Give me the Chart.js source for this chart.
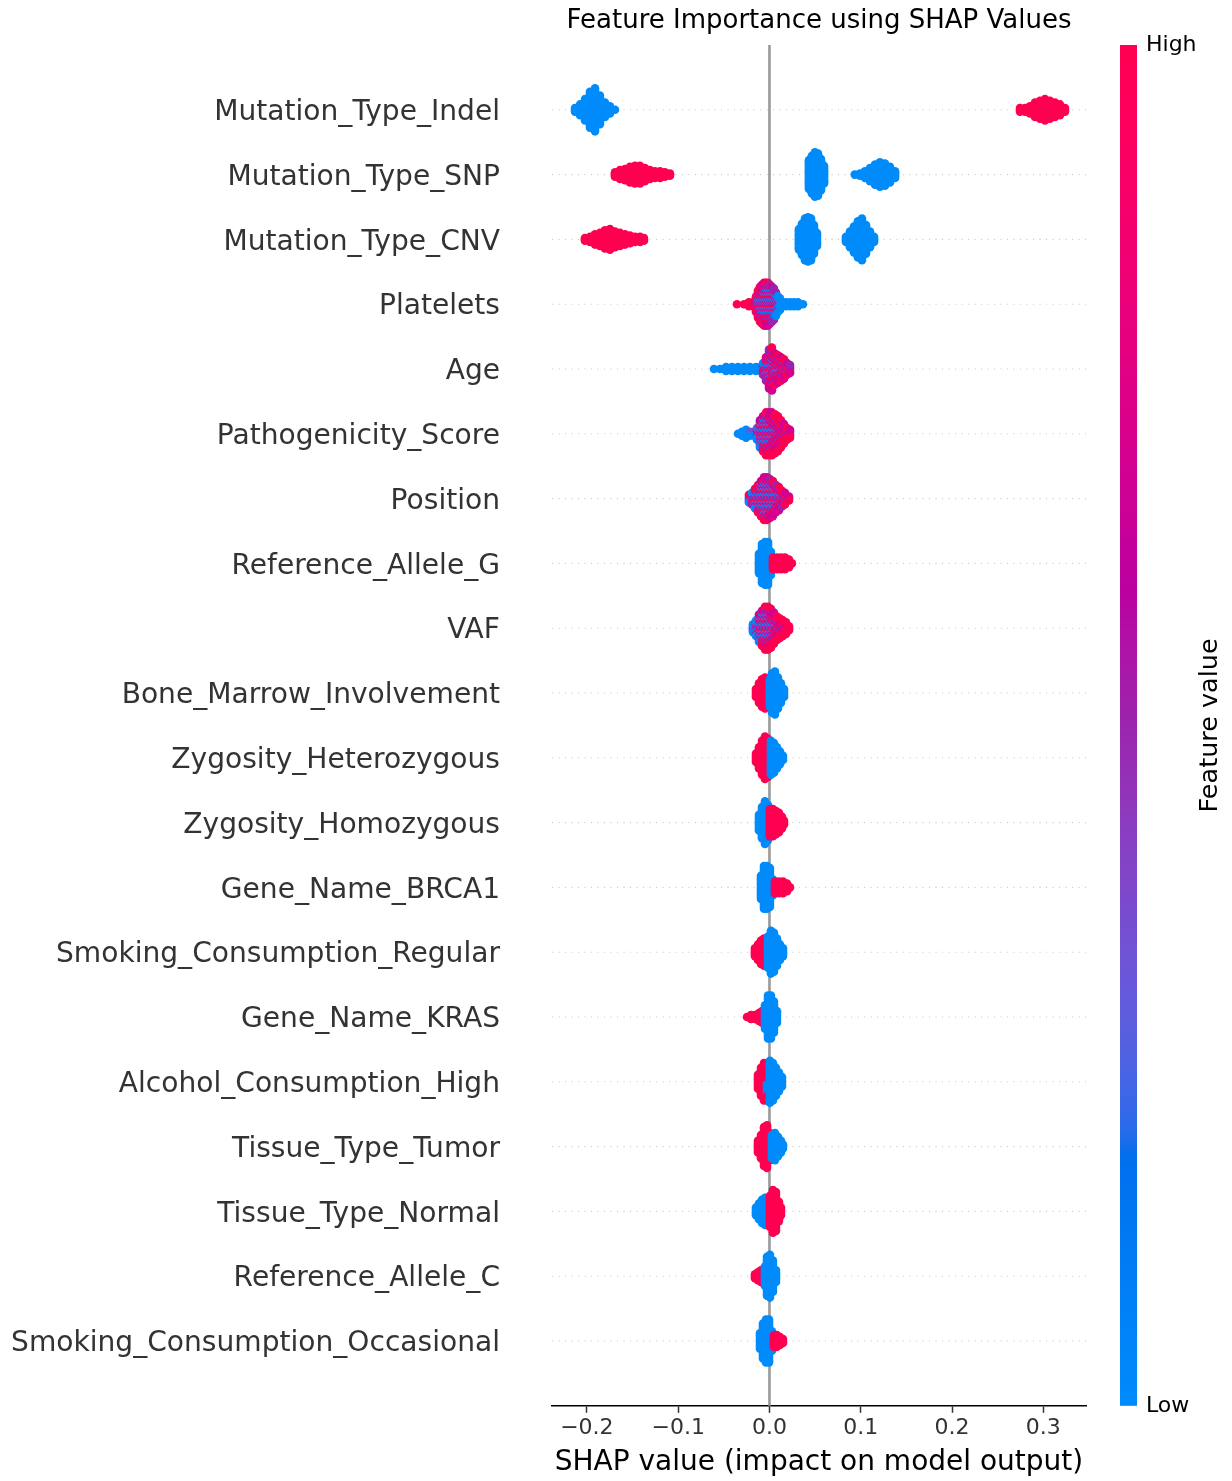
<!DOCTYPE html>
<html>
<head>
<meta charset="utf-8">
<script src="https://cdn.jsdelivr.net/npm/chart.js@4.4.1/dist/chart.umd.min.js"></script>
<style>
  html, body { margin: 0; padding: 0; background: #ffffff; }
  #wrap { width: 1232px; height: 1481px; }
</style>
</head>
<body>
<div id="wrap"><canvas id="shap" width="1232" height="1481"></canvas></div>
<script>
// Features, top row first.
const FEATURE_NAMES = [
  'Mutation_Type_Indel', 'Mutation_Type_SNP', 'Mutation_Type_CNV', 'Platelets', 'Age',
  'Pathogenicity_Score', 'Position', 'Reference_Allele_G', 'VAF', 'Bone_Marrow_Involvement',
  'Zygosity_Heterozygous', 'Zygosity_Homozygous', 'Gene_Name_BRCA1', 'Smoking_Consumption_Regular',
  'Gene_Name_KRAS', 'Alcohol_Consumption_High', 'Tissue_Type_Tumor', 'Tissue_Type_Normal',
  'Reference_Allele_C', 'Smoking_Consumption_Occasional'
];

// Feature value levels (0 = low, 1 = high) used by the count columns below.
const FEATURE_LEVELS = [0, 0.3, 0.5, 0.7, 1];

// SHAP axis ticks
const X_TICKS = [-0.2, -0.1, 0.0, 0.1, 0.2, 0.3];

// Each row: [shap value, points at level 0, 0.3, 0.5, 0.7, 1]
const mutationTypeIndel = [
  [-0.2130, 3,0,0,0,0], [-0.2075, 7,0,0,0,0], [-0.2020, 13,0,0,0,0], [-0.1966, 21,0,0,0,0],
  [-0.1911, 25,0,0,0,0], [-0.1857, 17,0,0,0,0], [-0.1802, 9,0,0,0,0], [-0.1747, 5,0,0,0,0],
  [-0.1692, 1,0,0,0,0],
  [0.2744, 0,0,0,0,3], [0.2799, 0,0,0,0,3], [0.2853, 0,0,0,0,5], [0.2908, 0,0,0,0,9],
  [0.2963, 0,0,0,0,11], [0.3018, 0,0,0,0,13], [0.3072, 0,0,0,0,11], [0.3127, 0,0,0,0,9],
  [0.3182, 0,0,0,0,7], [0.3237, 0,0,0,0,3]
];
const mutationTypeSNP = [
  [-0.1692, 0,0,0,0,5], [-0.1637, 0,0,0,0,9], [-0.1583, 0,0,0,0,11], [-0.1528, 0,0,0,0,15],
  [-0.1473, 0,0,0,0,17], [-0.1418, 0,0,0,0,17], [-0.1364, 0,0,0,0,13], [-0.1309, 0,0,0,0,9],
  [-0.1254, 0,0,0,0,7], [-0.1199, 0,0,0,0,7], [-0.1145, 0,0,0,0,5], [-0.1090, 0,0,0,0,3],
  [0.0433, 27,0,0,0,0], [0.0465, 35,0,0,0,0], [0.0498, 41,0,0,0,0], [0.0531, 39,0,0,0,0],
  [0.0564, 29,0,0,0,0], [0.0597, 17,0,0,0,0],
  [0.0934, 1,0,0,0,0], [0.0991, 3,0,0,0,0], [0.1046, 7,0,0,0,0], [0.1101, 13,0,0,0,0],
  [0.1156, 19,0,0,0,0], [0.1210, 23,0,0,0,0], [0.1265, 21,0,0,0,0], [0.1320, 15,0,0,0,0],
  [0.1375, 7,0,0,0,0]
];
const mutationTypeCNV = [
  [-0.2021, 0,0,0,0,3], [-0.1966, 0,0,0,0,5], [-0.1911, 0,0,0,0,9], [-0.1857, 0,0,0,0,11],
  [-0.1802, 0,0,0,0,15], [-0.1747, 0,0,0,0,17], [-0.1692, 0,0,0,0,13], [-0.1637, 0,0,0,0,11],
  [-0.1583, 0,0,0,0,9], [-0.1528, 0,0,0,0,7], [-0.1473, 0,0,0,0,5], [-0.1418, 0,0,0,0,5],
  [-0.1375, 0,0,0,0,3],
  [0.0323, 17,0,0,0,0], [0.0356, 25,0,0,0,0], [0.0389, 33,0,0,0,0], [0.0422, 35,0,0,0,0],
  [0.0455, 33,0,0,0,0], [0.0487, 23,0,0,0,0], [0.0520, 11,0,0,0,0],
  [0.0838, 5,0,0,0,0], [0.0882, 13,0,0,0,0], [0.0925, 21,0,0,0,0], [0.0969, 29,0,0,0,0],
  [0.1013, 33,0,0,0,0], [0.1057, 23,0,0,0,0], [0.1101, 13,0,0,0,0], [0.1145, 5,0,0,0,0]
];
const platelets = [
  [-0.0356, 0,0,0,0,1], [-0.0279, 0,0,0,0,1], [-0.0225, 0,0,0,1,2], [-0.0181, 0,0,0,1,2],
  [-0.0148, 0,0,2,2,5], [-0.0126, 2,1,3,4,5], [-0.0104, 2,2,4,5,6], [-0.0082, 3,2,4,6,6],
  [-0.0060, 3,3,5,6,6], [-0.0038, 4,3,5,6,5], [-0.0016, 4,3,5,6,5], [0.0005, 4,3,5,5,4],
  [0.0027, 4,3,5,4,3], [0.0049, 4,3,5,3,2], [0.0071, 4,3,3,2,1], [0.0093, 4,2,2,1,0],
  [0.0115, 5,2,0,0,0],
  [0.0137, 3,0,0,0,0], [0.0181, 3,0,0,0,0], [0.0225, 3,0,0,0,0], [0.0268, 3,0,0,0,0],
  [0.0312, 3,0,0,0,0], [0.0367, 1,0,0,0,0]
];
const age = [
  [-0.0608, 1,0,0,0,0], [-0.0542, 1,0,0,0,0], [-0.0476, 3,0,0,0,0], [-0.0411, 3,0,0,0,0],
  [-0.0345, 3,0,0,0,0], [-0.0279, 3,0,0,0,0], [-0.0214, 3,0,0,0,0], [-0.0148, 3,0,0,0,0],
  [-0.0093, 3,0,0,0,0],
  [-0.0071, 2,1,2,1,1], [-0.0038, 2,2,4,3,2], [-0.0005, 2,3,6,6,4], [0.0027, 1,3,6,7,6],
  [0.0060, 0,2,5,5,5], [0.0093, 0,2,4,5,4], [0.0126, 0,1,4,4,4], [0.0159, 0,1,3,4,3],
  [0.0192, 0,1,2,2,2], [0.0225, 0,0,2,2,1]
];
const pathogenicityScore = [
  [-0.0345, 1,0,0,0,0], [-0.0301, 3,0,0,0,0], [-0.0257, 5,0,0,0,0], [-0.0214, 2,1,0,0,0],
  [-0.0170, 2,1,0,0,0],
  [-0.0137, 3,2,1,1,0], [-0.0104, 4,3,3,3,2], [-0.0071, 4,3,4,4,4], [-0.0038, 4,3,5,5,6],
  [-0.0005, 3,3,5,6,6], [0.0027, 2,2,5,7,7], [0.0060, 1,2,5,6,7], [0.0093, 1,1,4,6,7],
  [0.0126, 0,1,3,5,6], [0.0159, 0,1,2,4,4], [0.0192, 0,0,2,2,3], [0.0225, 0,0,1,2,2]
];
const position = [
  [-0.0225, 2,1,1,0,1], [-0.0192, 2,1,2,1,1], [-0.0159, 3,2,2,2,2], [-0.0126, 3,2,3,3,4],
  [-0.0093, 4,3,4,4,4], [-0.0060, 4,4,5,5,5], [-0.0027, 4,4,5,5,5], [0.0005, 3,4,5,5,4],
  [0.0038, 3,3,4,5,4], [0.0071, 2,2,4,4,3], [0.0104, 1,2,3,4,3], [0.0137, 1,1,3,2,2],
  [0.0170, 0,1,2,2,2], [0.0214, 0,0,1,1,1]
];
const referenceAlleleG = [
  [-0.0115, 11,0,0,0,0], [-0.0082, 21,0,0,0,0], [-0.0049, 23,0,0,0,0], [-0.0016, 23,0,0,0,0],
  [0.0016, 13,0,0,0,0],
  [0.0038, 0,0,0,0,7], [0.0082, 0,0,0,0,7], [0.0126, 0,0,0,0,7], [0.0170, 0,0,0,0,7],
  [0.0214, 0,0,0,0,5], [0.0246, 0,0,0,0,1]
];
const vaf = [
  [-0.0181, 3,1,1,0,0], [-0.0148, 4,2,2,1,0], [-0.0115, 4,3,3,3,2], [-0.0082, 4,3,4,4,4],
  [-0.0049, 3,4,5,5,6], [-0.0016, 3,4,5,5,6], [0.0016, 2,3,5,5,6], [0.0049, 1,2,4,5,5],
  [0.0082, 0,1,3,4,5], [0.0115, 0,1,2,3,5], [0.0148, 0,0,2,3,4], [0.0181, 0,0,1,2,4],
  [0.0214, 0,0,0,1,2]
];
const boneMarrowInvolvement = [
  [-0.0148, 0,0,0,0,5], [-0.0115, 0,0,0,0,11], [-0.0082, 0,0,0,0,15], [-0.0049, 0,0,0,0,17],
  [-0.0027, 0,0,0,0,15],
  [0.0005, 15,0,0,0,0], [0.0027, 21,0,0,0,0], [0.0060, 23,0,0,0,0], [0.0093, 17,0,0,0,0],
  [0.0126, 11,0,0,0,0], [0.0159, 5,0,0,0,0]
];
const zygosityHeterozygous = [
  [-0.0148, 0,0,0,0,5], [-0.0115, 0,0,0,0,11], [-0.0082, 0,0,0,0,17], [-0.0049, 0,0,0,0,21],
  [-0.0016, 0,0,0,0,19],
  [0.0016, 17,0,0,0,0], [0.0049, 15,0,0,0,0], [0.0082, 11,0,0,0,0], [0.0115, 7,0,0,0,0],
  [0.0148, 3,0,0,0,0]
];
const zygosityHomozygous = [
  [-0.0115, 9,0,0,0,0], [-0.0082, 17,0,0,0,0], [-0.0049, 23,0,0,0,0], [-0.0016, 19,0,0,0,0],
  [0.0005, 0,0,0,0,15], [0.0038, 0,0,0,0,15], [0.0071, 0,0,0,0,13], [0.0104, 0,0,0,0,11],
  [0.0137, 0,0,0,0,7], [0.0159, 0,0,0,0,3]
];
const geneNameBRCA1 = [
  [-0.0093, 13,0,0,0,0], [-0.0060, 23,0,0,0,0], [-0.0027, 23,0,0,0,0], [0.0005, 21,0,0,0,0],
  [0.0038, 9,0,0,0,0],
  [0.0060, 0,0,0,0,7], [0.0104, 0,0,0,0,7], [0.0148, 0,0,0,0,7], [0.0192, 0,0,0,0,5],
  [0.0225, 0,0,0,0,1]
];
const smokingConsumptionRegular = [
  [-0.0159, 0,0,0,0,5], [-0.0126, 0,0,0,0,9], [-0.0093, 0,0,0,0,13], [-0.0060, 0,0,0,0,15],
  [-0.0038, 0,0,0,0,11],
  [-0.0016, 17,0,0,0,0], [0.0016, 23,0,0,0,0], [0.0049, 21,0,0,0,0], [0.0082, 15,0,0,0,0],
  [0.0115, 9,0,0,0,0], [0.0148, 5,0,0,0,0]
];
const geneNameKRAS = [
  [-0.0246, 0,0,0,0,1], [-0.0203, 0,0,0,0,3], [-0.0159, 0,0,0,0,3], [-0.0115, 0,0,0,0,5],
  [-0.0082, 0,0,0,0,7],
  [-0.0049, 13,0,0,0,0], [-0.0016, 23,0,0,0,0], [0.0016, 23,0,0,0,0], [0.0049, 17,0,0,0,0],
  [0.0082, 7,0,0,0,0]
];
const alcoholConsumptionHigh = [
  [-0.0126, 0,0,0,0,7], [-0.0093, 0,0,0,0,13], [-0.0060, 0,0,0,0,17], [-0.0027, 6,0,0,0,11],
  [0.0005, 19,0,0,0,0], [0.0038, 17,0,0,0,0], [0.0071, 13,0,0,0,0], [0.0104, 9,0,0,0,0],
  [0.0137, 5,0,0,0,0]
];
const tissueTypeTumor = [
  [-0.0126, 0,0,0,0,7], [-0.0093, 0,0,0,0,13], [-0.0060, 0,0,0,0,21], [-0.0027, 0,0,0,0,23],
  [0.0005, 0,0,0,0,15],
  [0.0027, 13,0,0,0,0], [0.0060, 15,0,0,0,0], [0.0093, 11,0,0,0,0], [0.0126, 7,0,0,0,0],
  [0.0148, 3,0,0,0,0]
];
const tissueTypeNormal = [
  [-0.0148, 5,0,0,0,0], [-0.0115, 9,0,0,0,0], [-0.0082, 13,0,0,0,0], [-0.0049, 15,0,0,0,0],
  [-0.0016, 13,0,0,0,0],
  [0.0005, 0,0,0,0,17], [0.0038, 0,0,0,0,23], [0.0071, 0,0,0,0,21], [0.0104, 0,0,0,0,11],
  [0.0126, 0,0,0,0,5]
];
const referenceAlleleC = [
  [-0.0159, 0,0,0,0,3], [-0.0126, 0,0,0,0,5], [-0.0093, 0,0,0,0,7], [-0.0060, 0,0,0,0,9],
  [-0.0049, 11,0,0,0,0], [-0.0027, 21,0,0,0,0], [0.0005, 23,0,0,0,0], [0.0038, 17,0,0,0,0],
  [0.0071, 7,0,0,0,0]
];
const smokingConsumptionOccasional = [
  [-0.0104, 9,0,0,0,0], [-0.0071, 19,0,0,0,0], [-0.0038, 23,0,0,0,0], [-0.0005, 23,0,0,0,0],
  [0.0027, 11,0,0,0,0],
  [0.0049, 0,0,0,0,7], [0.0082, 0,0,0,0,7], [0.0115, 0,0,0,0,5], [0.0148, 0,0,0,0,3]
];

const FEATURE_DATA = [
  mutationTypeIndel, mutationTypeSNP, mutationTypeCNV, platelets, age,
  pathogenicityScore, position, referenceAlleleG, vaf, boneMarrowInvolvement,
  zygosityHeterozygous, zygosityHomozygous, geneNameBRCA1, smokingConsumptionRegular,
  geneNameKRAS, alcoholConsumptionHigh, tissueTypeTumor, tissueTypeNormal,
  referenceAlleleC, smokingConsumptionOccasional
];

// ---- red/blue colour map interpolated in LCH space ----
function labToRgb(L, a, b) {
  const fy = (L + 16) / 116, fx = fy + a / 500, fz = fy - b / 200;
  const inv = t => (t > 6 / 29 ? t * t * t : 3 * (6 / 29) * (6 / 29) * (t - 4 / 29));
  const X = 0.95047 * inv(fx), Y = inv(fy), Z = 1.08883 * inv(fz);
  let r = 3.2406 * X - 1.5372 * Y - 0.4986 * Z;
  let g = -0.9689 * X + 1.8758 * Y + 0.0415 * Z;
  let bl = 0.0557 * X - 0.2040 * Y + 1.0570 * Z;
  const gam = c => {
    c = Math.min(1, Math.max(0, c));
    return c <= 0.0031308 ? 12.92 * c : 1.055 * Math.pow(c, 1 / 2.4) - 0.055;
  };
  return [gam(r), gam(g), gam(bl)].map(c => Math.round(c * 255));
}
function redBlue(t) {
  t = Math.min(1, Math.max(0, t));
  const L = t < 0.5 ? 54 + (40 - 54) * (t / 0.5) : 40 + (54 - 40) * ((t - 0.5) / 0.5);
  const C = 70 + (90 - 70) * t;
  const h = 4.6588 + t * (0.35470565 + 2 * Math.PI - 4.6588);
  const [r, g, b] = labToRgb(L, C * Math.cos(h), C * Math.sin(h));
  return `rgb(${r},${g},${b})`;
}

// ---- beeswarm layout: stack points of the same bin alternately above and below the row ----
function swarm(entries, rowValue) {
  const pts = [];
  entries.forEach(e => {
    const counts = e.slice(1);
    let left = counts.reduce((s, c) => s + c, 0);
    while (left > 0) {
      for (let lv = 0; lv < counts.length; lv++) {
        if (counts[lv] > 0) { pts.push({ x: e[0], v: FEATURE_LEVELS[lv] }); counts[lv]--; left--; }
      }
    }
  });
  const xs = pts.map(p => p.x);
  const mn = Math.min(...xs), mx = Math.max(...xs);
  const nbins = 100;
  pts.forEach(p => { p.q = Math.round(nbins * (p.x - mn) / (mx - mn + 1e-8)); });
  const order = pts.map((p, i) => i).sort((a, b) => (pts[a].q - pts[b].q) || (a - b));
  let layer = 0, last = -1;
  order.forEach(i => {
    if (pts[i].q !== last) layer = 0;
    pts[i].off = Math.ceil(layer / 2) * ((layer % 2) * 2 - 1);
    layer++;
    last = pts[i].q;
  });
  const maxOff = Math.max(...pts.map(p => p.off + 1));
  const rowHeight = 0.4;
  const scale = 0.9 * (rowHeight / maxOff);
  return pts.map(p => ({ x: p.x, y: rowValue + p.off * scale, v: p.v }));
}

const nRows = FEATURE_NAMES.length;
const points = [];
FEATURE_DATA.forEach((entries, k) => { points.push(...swarm(entries, nRows - 1 - k)); });
const pointColors = points.map(p => redBlue(p.v));

const FONT = "'DejaVu Sans', 'Liberation Sans', sans-serif";

const decor = {
  id: 'decor',
  beforeDatasetsDraw(chart) {
    const { ctx, chartArea: a, scales: { x, y } } = chart;
    ctx.save();
    ctx.strokeStyle = '#cccccc';
    ctx.lineWidth = 1.1;
    ctx.setLineDash([1.1, 5.4]);
    for (let i = 0; i < nRows; i++) {
      const py = y.getPixelForValue(i);
      ctx.beginPath(); ctx.moveTo(a.left, py); ctx.lineTo(a.right, py); ctx.stroke();
    }
    ctx.setLineDash([]);
    ctx.strokeStyle = '#999999';
    ctx.lineWidth = 2.6;
    const x0 = x.getPixelForValue(0);
    ctx.beginPath(); ctx.moveTo(x0, a.top); ctx.lineTo(x0, a.bottom); ctx.stroke();
    ctx.restore();
  },
  afterDraw(chart) {
    const { ctx, chartArea: a } = chart;
    ctx.save();
    const cx = (a.left + a.right) / 2;
    // title
    ctx.fillStyle = '#000000';
    ctx.textAlign = 'center';
    ctx.textBaseline = 'middle';
    ctx.font = `26px ${FONT}`;
    ctx.fillText('Feature Importance using SHAP Values', cx, 21);
    // x-axis title
    ctx.font = `28px ${FONT}`;
    ctx.fillText('SHAP value (impact on model output)', cx, 1463);
    // colour bar
    const barL = 1120, barW = 17, barTop = a.top, barBot = a.bottom;
    const grad = ctx.createLinearGradient(0, barBot, 0, barTop);
    for (let i = 0; i <= 60; i++) grad.addColorStop(i / 60, redBlue(i / 60));
    ctx.fillStyle = grad;
    ctx.fillRect(barL, barTop, barW, barBot - barTop);
    ctx.fillStyle = '#000000';
    ctx.textAlign = 'left';
    ctx.font = `22px ${FONT}`;
    ctx.fillText('High', 1146, barTop);
    ctx.fillText('Low', 1146, barBot);
    ctx.translate(1210, (barTop + barBot) / 2);
    ctx.rotate(-Math.PI / 2);
    ctx.textAlign = 'center';
    ctx.font = `25.5px ${FONT}`;
    ctx.fillText('Feature value', 0, 0);
    ctx.restore();
  }
};

new Chart(document.getElementById('shap'), {
  type: 'scatter',
  data: {
    datasets: [{
      data: points,
      pointBackgroundColor: pointColors,
      pointBorderWidth: 0,
      pointRadius: 4.3,
      pointHoverRadius: 4.3,
      showLine: false
    }]
  },
  options: {
    responsive: false,
    animation: false,
    devicePixelRatio: 1,
    events: [],
    parsing: false,
    layout: { padding: { left: 0, right: 146, top: 45, bottom: 0 } },
    plugins: { legend: { display: false }, tooltip: { enabled: false }, title: { display: false } },
    scales: {
      x: {
        type: 'linear',
        min: -0.2382,
        max: 0.3467,
        afterBuildTicks: s => { s.ticks = X_TICKS.map(v => ({ value: v })); },
        afterFit: s => { s.height = 75.2; s.paddingLeft = 0; s.paddingRight = 0; },
        ticks: {
          autoSkip: false, maxRotation: 0, padding: 2,
          color: '#333333',
          font: { family: FONT, size: 22 },
          callback: v => (v < 0 ? '\u2212' + Math.abs(v).toFixed(1) : v.toFixed(1))
        },
        grid: { display: true, drawOnChartArea: false, drawTicks: true, tickLength: 7, tickWidth: 1.5, tickColor: '#333333' },
        border: { display: true, color: '#000000', width: 1.6 }
      },
      y: {
        type: 'linear',
        min: -1,
        max: nRows,
        afterBuildTicks: s => { s.ticks = FEATURE_NAMES.map((n, i) => ({ value: i })); },
        afterFit: s => { s.width = 552; s.paddingTop = 0; s.paddingBottom = 0; },
        ticks: {
          autoSkip: false, padding: 52, labelOffset: 3,
          color: '#333333',
          font: { family: FONT, size: 28.1 },
          callback: v => FEATURE_NAMES[nRows - 1 - v]
        },
        grid: { display: false, drawTicks: false },
        border: { display: false }
      }
    }
  },
  plugins: [decor]
});
</script>
</body>
</html>
